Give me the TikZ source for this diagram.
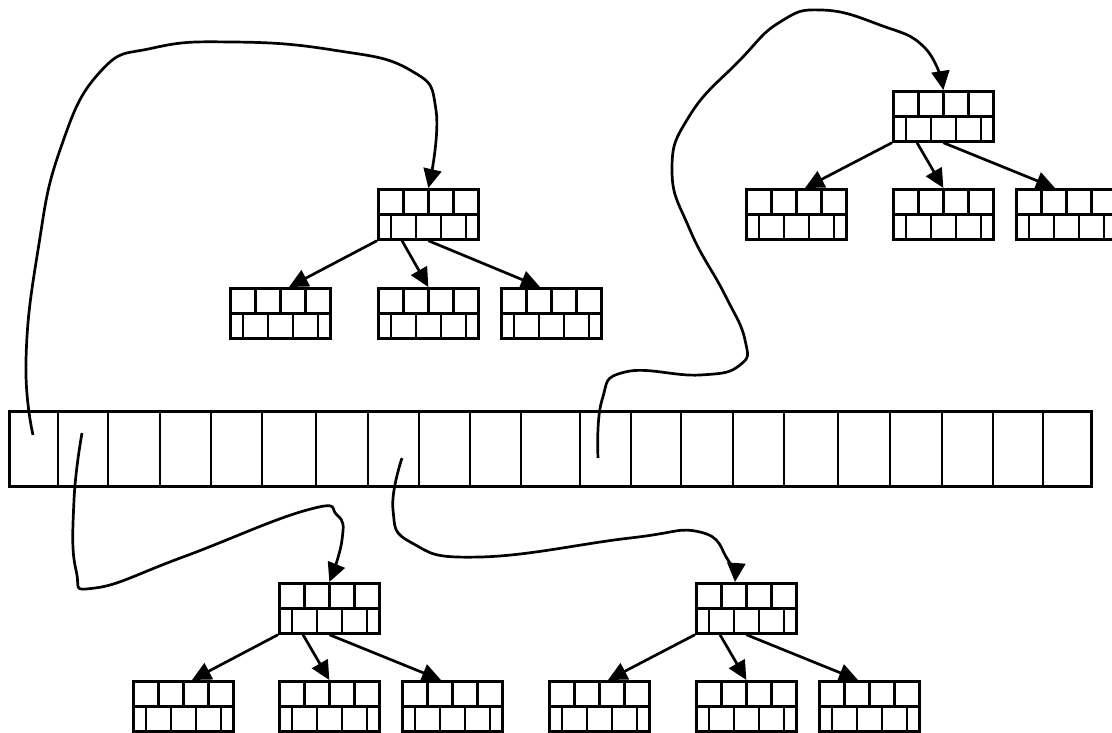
\documentclass[tikz,border=0pt]{standalone}
\usetikzlibrary{arrows.meta, calc}
\tikzset{
    % one tree page: four cells on top, five offset cells below (like bricks)
    page/.style={draw, anchor=north west, inner sep=0pt,
        minimum width=100pt, minimum height=50pt,
        path picture={
            \draw[line width=2.7pt]
                (path picture bounding box.west) -- (path picture bounding box.east)
                \foreach \k in {1,2,3}{
                    ($(path picture bounding box.north west)+(\k*25,0)$)
                    -- ($(path picture bounding box.west)+(\k*25,0)$)}
                \foreach \k in {0,...,3}{
                    ($(path picture bounding box.west)+(12.5+\k*25,0)$)
                    -- ($(path picture bounding box.south west)+(12.5+\k*25,0)$)};
        }},
    % the long table of slots
    slots/.style={draw, anchor=north west, inner sep=0pt,
        minimum width=1082pt, minimum height=75pt},
    % parent -> child pointers
    edge/.style={-{Triangle[length=19pt, width=18pt]}},
    % hand drawn pointers from a slot to a tree root
    link/.style={-{Triangle[length=19pt, width=18pt]}, line join=round},
}

\begin{document}
\begin{tikzpicture}[x=1pt, y=-1pt, line width=2.7pt]
    \useasboundingbox (0,0) rectangle (1112,732);

    % ---- table ----
    \node[slots] (tab) at (8,410) {};
    \foreach \x in {58,108,160,211,262,316,368,419,470,521,580,631,681,733,784,838,890,942,993,1043}
        \draw (\x,0 |- tab.north) -- (\x,0 |- tab.south);

    % ---- trees: root and its three children ----
    \node[page] (ta)  at (377,188) {};
    \node[page] (ta1) at (229,287) {};
    \node[page] (ta2) at (377,287) {};
    \node[page] (ta3) at (500,287) {};

    \node[page] (tb)  at (892,90)  {};
    \node[page] (tb1) at (745,188) {};
    \node[page] (tb2) at (892,188) {};
    \node[page] (tb3) at (1015,188) {};

    \node[page] (tc)  at (278,582) {};
    \node[page] (tc1) at (132,680) {};
    \node[page] (tc2) at (278,680) {};
    \node[page] (tc3) at (401,680) {};

    \node[page] (td)  at (695,582) {};
    \node[page] (td1) at (548,680) {};
    \node[page] (td2) at (695,680) {};
    \node[page] (td3) at (818,680) {};

    \foreach \t in {ta,tb,tc,td}{
        \draw[edge] (\t.south west) -- ($(\t1.north west)+(60,0)$);
        \draw[edge] ($(\t.south west)+(25,0)$) -- (\t2.north);
        \draw[edge] (\t.south) -- ($(\t3.north west)+(40,0)$);
    }

    % ---- pointers out of the slots ----
    \coordinate (s0) at (33,435);
    \coordinate (s1) at (82,433);
    \coordinate (s7) at (402,458);
    \coordinate (s11) at (598,458);

    \draw[link] plot[smooth, tension=0.8] coordinates {(s0) (26,360) (38,250) (60,150)
        (100,72) (153,48) (233,42) (333,50) (410,70) (436,110) (ta.north)};
    \draw[link] plot[smooth, tension=0.8] coordinates {(s11) (602,400) (625,372) (700,375)
        (740,365) (745,340) (725,295) (690,230) (672,170) (690,115) (740,60) (780,22)
        (822,10) (880,25) (925,48) (tb.north)};
    \draw[link] plot[smooth, tension=0.8] coordinates {(s1) (74,500) (76,570) (95,588)
        (183,557) (307,510) (337,515) (342,540) (tc.north)};
    \draw[link] plot[smooth, tension=0.8] coordinates {(s7) (393,510) (412,543) (480,557)
        (630,538) (700,532) (728,560) ($(td.north west)+(40,0)$)};

\end{tikzpicture}
\end{document}
